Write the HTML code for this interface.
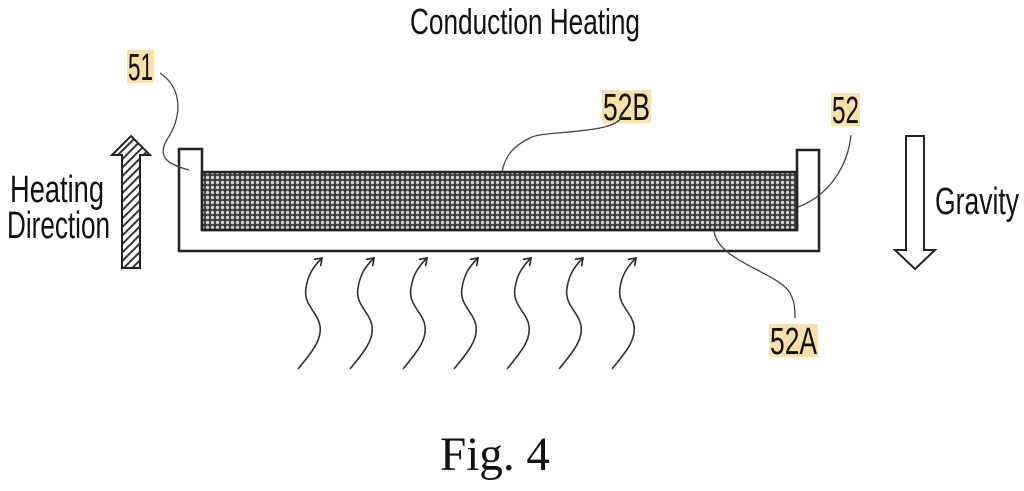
<!DOCTYPE html>
<html><head><meta charset="utf-8"><style>
html,body{margin:0;padding:0;background:#fff;width:1024px;height:491px;overflow:hidden}
svg{display:block}
text{font-family:"Liberation Sans Narrow","Liberation Sans",sans-serif;fill:#111}
</style></head><body>
<svg width="1024" height="491" viewBox="0 0 1024 491" xmlns="http://www.w3.org/2000/svg">
<defs>
<pattern id="dots" width="5" height="5" patternUnits="userSpaceOnUse">
<rect width="5" height="5" fill="#3a3a3a"/>
<circle cx="2.5" cy="2.5" r="1.7" fill="#d0d0d0"/>
</pattern>
<pattern id="hatch" width="6" height="6" patternUnits="userSpaceOnUse" patternTransform="rotate(45)">
<rect width="6" height="6" fill="#fff"/>
<rect width="2" height="6" fill="#333"/>
</pattern>
<marker id="ah" markerWidth="10" markerHeight="10" refX="7" refY="5" orient="auto" markerUnits="userSpaceOnUse">
<path d="M0,0 L7,5 L0,10" fill="none" stroke="#222" stroke-width="1.6"/>
</marker>
</defs>
<text x="410" y="34" font-size="36" textLength="230" lengthAdjust="spacingAndGlyphs">Conduction Heating</text>
<path d="M179,149 L202,149 L202,230 L797,230 L797,150 L819,150 L819,251 L179,251 Z" fill="#fff" stroke="#222" stroke-width="2.5"/>
<rect x="202" y="172" width="595" height="58" fill="url(#dots)" stroke="#222" stroke-width="2.5"/>
<path d="M122,268 L122,155 L112,155 L131,136 L150,155 L140,155 L140,268 Z" fill="url(#hatch)" stroke="#222" stroke-width="2"/>
<text x="10" y="202" font-size="38" textLength="94" lengthAdjust="spacingAndGlyphs">Heating</text>
<text x="7" y="238" font-size="38" textLength="103" lengthAdjust="spacingAndGlyphs">Direction</text>
<path d="M906,136 L924,136 L924,250 L935,250 L915,269 L895,250 L906,250 Z" fill="#fff" stroke="#222" stroke-width="2"/>
<text x="935" y="214" font-size="38" textLength="84" lengthAdjust="spacingAndGlyphs">Gravity</text>
<rect x="127" y="50" width="27" height="33" fill="#fbe0a8"/>
<text x="128" y="80" font-size="38" textLength="25" lengthAdjust="spacingAndGlyphs">51</text>
<rect x="602" y="90" width="49" height="33" fill="#fbe0a8"/>
<text x="603" y="120" font-size="38" textLength="47" lengthAdjust="spacingAndGlyphs">52B</text>
<rect x="831" y="93" width="29" height="33" fill="#fbe0a8"/>
<text x="832" y="123" font-size="38" textLength="27" lengthAdjust="spacingAndGlyphs">52</text>
<rect x="769" y="324" width="49" height="33" fill="#fbe0a8"/>
<text x="770" y="354" font-size="38" textLength="47" lengthAdjust="spacingAndGlyphs">52A</text>
<g fill="none" stroke="#444" stroke-width="1.3">
<path d="M160,73 C185,90 180,120 168,138 C155,158 170,165 189,170"/>
<path d="M622,115 C620,135 540,130 530,138 C515,145 505,155 502,172"/>
<path d="M851,135 C848,165 830,195 798,207"/>
<path d="M714,231 C718,260 770,270 788,290 C795,300 795,310 795,318"/>
</g>
<g fill="none" stroke="#333" stroke-width="1.6" marker-end="url(#ah)">
<path d="M298,369 C312,352 322,340 320,326 C318,312 303,305 306,288 C308,274 314,266 322,258"/>
<path d="M350,369 C364,352 374,340 372,326 C370,312 355,305 358,288 C360,274 366,266 374,258"/>
<path d="M403,369 C417,352 427,340 425,326 C423,312 408,305 411,288 C413,274 419,266 427,258"/>
<path d="M454,369 C468,352 478,340 476,326 C474,312 459,305 462,288 C464,274 470,266 478,258"/>
<path d="M507,369 C521,352 531,340 529,326 C527,312 512,305 515,288 C517,274 523,266 531,258"/>
<path d="M559,369 C573,352 583,340 581,326 C579,312 564,305 567,288 C569,274 575,266 583,258"/>
<path d="M612,369 C626,352 636,340 634,326 C632,312 617,305 620,288 C622,274 628,266 636,258"/>
</g>
<text x="440" y="470" font-size="48" textLength="110" lengthAdjust="spacingAndGlyphs" style="font-family:'Liberation Serif',serif">Fig. 4</text>
</svg>
</body></html>
